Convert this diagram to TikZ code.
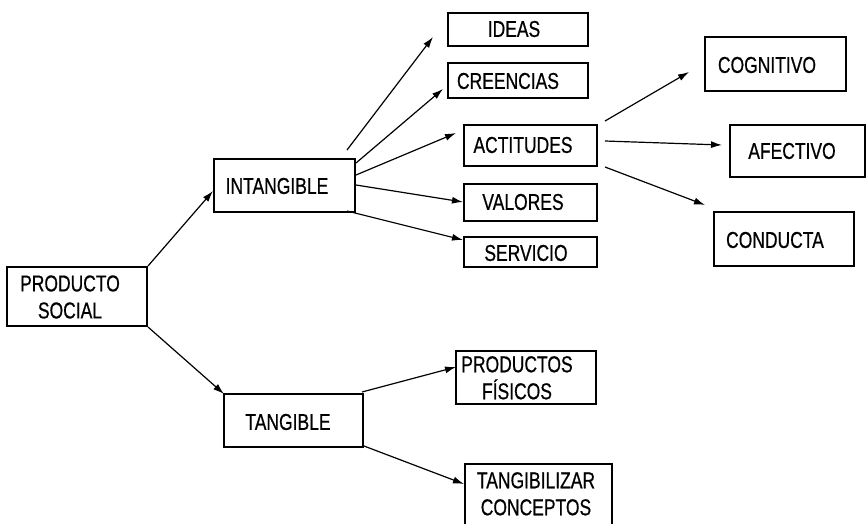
\documentclass[tikz,border=0pt]{standalone}
\usepackage{fontspec}
\setmainfont{Liberation Sans}[FakeStretch=0.76,FakeBold=0.6]
\usetikzlibrary{arrows.meta}
\begin{document}
\begin{tikzpicture}[x=1pt,y=-1pt,
  box/.style={draw,line width=2.4pt,inner sep=0pt},
  lbl/.style={inner sep=0pt,font=\fontsize{23}{27}\selectfont,align=center},
  arr/.style={line width=1.2pt,-{Latex[length=11pt,width=7pt]}}]
\useasboundingbox (0,0) rectangle (868,523);
% boxes (center, size)
\node[box,minimum width=140pt,minimum height=59pt] (ps) at (77,296.5) {};
\node[box,minimum width=141pt,minimum height=53pt] (int) at (284.5,185.5) {};
\node[box,minimum width=140pt,minimum height=33pt] (ideas) at (518,29.5) {};
\node[box,minimum width=140pt,minimum height=35pt] (cre) at (518,80.5) {};
\node[box,minimum width=133pt,minimum height=41pt] (act) at (530.5,145.5) {};
\node[box,minimum width=133pt,minimum height=37pt] (val) at (530.5,202.5) {};
\node[box,minimum width=133pt,minimum height=30pt] (ser) at (530.5,252) {};
\node[box,minimum width=141pt,minimum height=54pt] (cog) at (775.5,64) {};
\node[box,minimum width=135pt,minimum height=52pt] (afe) at (797.5,151) {};
\node[box,minimum width=140pt,minimum height=54pt] (con) at (784,239) {};
\node[box,minimum width=139pt,minimum height=53pt] (tan) at (293.5,420.5) {};
\node[box,minimum width=140pt,minimum height=53pt] (pro) at (526,377.5) {};
\node[box,minimum width=147pt,minimum height=100pt] (tgc) at (538.5,514) {};
% texts
\node[lbl] (psT) at (70,297) {PRODUCTO\\SOCIAL};
\node[lbl] (intT) at (277,186) {INTANGIBLE};
\node[lbl] (ideasT) at (514,29) {IDEAS};
\node[lbl] (creT) at (508,81) {CREENCIAS};
\node[lbl] (actT) at (523,145) {ACTITUDES};
\node[lbl] (valT) at (523,202) {VALORES};
\node[lbl] (serT) at (526,253) {SERVICIO};
\node[lbl] (cogT) at (767,65) {COGNITIVO};
\node[lbl] (afeT) at (792,151) {AFECTIVO};
\node[lbl] (conT) at (775,240) {CONDUCTA};
\node[lbl] (tanT) at (288,422) {TANGIBLE};
\node[lbl,anchor=north] (proT) at (517,356) {PRODUCTOS\\FÍSICOS};
\node[lbl,anchor=north] (tgcT) at (536,472) {TANGIBILIZAR\\CONCEPTOS};
% endpoints
\coordinate (a1) at (148,266);  \coordinate (b1) at (213,191);
\coordinate (a2) at (148,327);  \coordinate (b2) at (224,394);
\coordinate (a3) at (347,150);  \coordinate (b3) at (433,37);
\coordinate (a4) at (356,163);  \coordinate (b4) at (443,89);
\coordinate (a5) at (356,175);  \coordinate (b5) at (456,133);
\coordinate (a6) at (356,185);  \coordinate (b6) at (463,202);
\coordinate (a7) at (347,211);  \coordinate (b7) at (463,240);
\coordinate (a8) at (605,121);  \coordinate (b8) at (689,72);
\coordinate (a9) at (605,141);  \coordinate (b9) at (722,145);
\coordinate (a10) at (605,167); \coordinate (b10) at (705,205);
\coordinate (a11) at (362,392); \coordinate (b11) at (456,367);
\coordinate (a12) at (364,446); \coordinate (b12) at (464,484);
\draw[arr] (a1) -- (b1);
\draw[arr] (a2) -- (b2);
\draw[arr] (a3) -- (b3);
\draw[arr] (a4) -- (b4);
\draw[arr] (a5) -- (b5);
\draw[arr] (a6) -- (b6);
\draw[arr] (a7) -- (b7);
\draw[arr] (a8) -- (b8);
\draw[arr] (a9) -- (b9);
\draw[arr] (a10) -- (b10);
\draw[arr] (a11) -- (b11);
\draw[arr] (a12) -- (b12);
\end{tikzpicture}
\end{document}
